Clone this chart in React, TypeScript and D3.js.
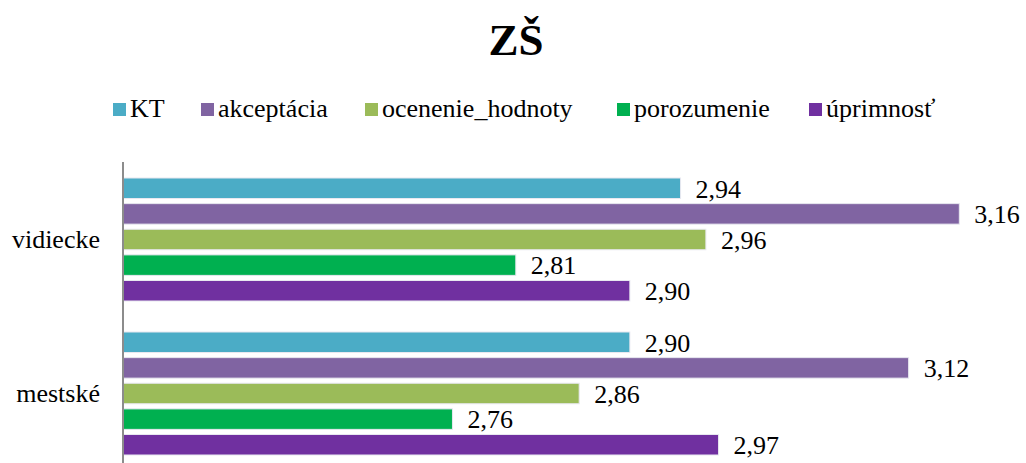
import React from "react";
import * as d3 from "d3";

const categories = ["vidiecke", "mestské"];
const seriesNames = ["KT", "akceptácia", "ocenenie_hodnoty", "porozumenie", "úprimnosť"];
const seriesColors = ["#4BACC6", "#8064A2", "#9BBB59", "#00B050", "#7030A0"];
const vidieckeValues = [2.94, 3.16, 2.96, 2.81, 2.9];
const mestskeValues = [2.9, 3.12, 2.86, 2.76, 2.97];
const valuesByCategory = [vidieckeValues, mestskeValues];
const xDomain = [2.5, 3.2];

const W = 1026;
const H = 463;

function T(props: any) {
  const { children, ...rest } = props;
  return (
    <text {...rest} fill="#000" style={{ fontFamily: "Liberation Serif" }}>
      {children}
    </text>
  );
}

export default function App() {
  const x = d3.scaleLinear().domain(xDomain).range([123, 1010]);
  const y = d3.scaleBand<string>().domain(categories).range([162.5, 470.5]).padding(0);
  const inner = d3
    .scaleBand<string>()
    .domain(seriesNames)
    .range([15.5, y.bandwidth() - 15.5])
    .paddingInner(0.2)
    .paddingOuter(0);

  const legendX = [113, 201, 365, 617, 809];

  return (
    <svg width={W} height={H} style={{ position: "absolute", left: 0, top: 0 }}>
      <rect x={0} y={0} width={W} height={H} fill="#fff" />
      <T x={516} y={55} textAnchor="middle" fontSize={45} fontWeight="bold">
        ZŠ
      </T>
      {seriesNames.map((s, i) => (
        <g key={s}>
          <rect x={legendX[i]} y={103} width={13} height={13} fill={seriesColors[i]} />
          <T x={legendX[i] + 17} y={117} fontSize={26}>
            {s}
          </T>
        </g>
      ))}
      {categories.map((c, ci) => (
        <g key={c} transform={`translate(0,${y(c)})`}>
          <T x={100} y={y.bandwidth() / 2 + 8} textAnchor="end" fontSize={26}>
            {c}
          </T>
          {seriesNames.map((s, si) => {
            const v = valuesByCategory[ci][si];
            const by = inner(s) as number;
            const bh = inner.bandwidth();
            return (
              <g key={s}>
                <rect
                  x={x(xDomain[0])}
                  y={by}
                  width={x(v) - x(xDomain[0])}
                  height={bh}
                  fill={seriesColors[si]}
                  stroke="#e8e8f0"
                  strokeWidth={1}
                />
                <T x={x(v) + 15} y={by + bh - 1} fontSize={26}>
                  {v.toFixed(2).replace(".", ",")}
                </T>
              </g>
            );
          })}
        </g>
      ))}
      <line x1={123} x2={123} y1={162} y2={H} stroke="#8c8c8c" strokeWidth={2} />
    </svg>
  );
}
